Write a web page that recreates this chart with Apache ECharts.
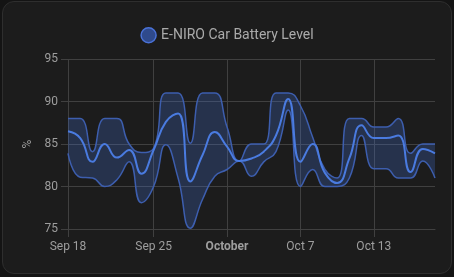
<!DOCTYPE html>
<html>
<head>
<meta charset="utf-8">
<script src="https://cdn.jsdelivr.net/npm/echarts@6/dist/echarts.min.js"></script>
<style>
  html, body { margin:0; padding:0; background:#141414; width:454px; height:277px; overflow:hidden; }
  #card { position:absolute; left:2px; top:1px; width:448px; height:271px; background:#1c1c1c; border:1px solid #2e2e2e; border-radius:12px; }
  #chart { position:absolute; left:0; top:0; width:454px; height:277px; }
</style>
</head>
<body>
<div id="card"></div>
<div id="chart"></div>
<script>
// Daily statistics, one point per day starting Sep 18
const dates = ['Sep 18','Sep 19','Sep 20','Sep 21','Sep 22','Sep 23','Sep 24','Sep 25','Sep 26','Sep 27','Sep 28','Sep 29','Sep 30','October','Oct 2','Oct 3','Oct 4','Oct 5','Oct 6','Oct 7','Oct 8','Oct 9','Oct 10','Oct 11','Oct 12','Oct 13','Oct 14','Oct 15','Oct 16','Oct 17','Oct 18'];
const maxValues  = [88,88,84.1,88,88,85,84,84.5,91,91,85.1,91,91,87,83,85,85,91,91,89.5,85.8,82,81,88,88,87,87,88,83.9,85,85];
const meanValues = [86.5,85.7,82.9,85.0,83.4,84.3,81.5,84.3,87.6,88.6,80.6,83.7,86.4,84.7,83.0,83.3,84.1,86.0,90.3,82.9,85.0,81.6,80.4,83.3,87.2,85.7,85.7,86.0,81.7,84.4,83.9];
const minValues  = [83.9,81.1,81.0,80.0,80.8,82.9,78.1,80.0,84.9,81.0,75.1,78.5,81.2,82.0,83.0,81.2,82.9,84.1,89.0,80.0,82.0,80.0,80.0,81.0,86.0,82.1,82.1,81.0,81.0,83.0,81.0];
const tickLabels = ['Sep 18','Sep 25','October','Oct 7','Oct 13'];
const yTicks = [75,80,85,90,95];
const seriesName = 'E-NIRO Car Battery Level';

const isTick = function(idx){ return tickLabels.indexOf(dates[idx]) >= 0; };

const chart = echarts.init(document.getElementById('chart'), null, {renderer:'canvas'});
const gridColor = '#404040';
const labelColor = '#9e9e9e';
const font = 'Roboto';

const diffValues = maxValues.map((v,i)=> +(v - minValues[i]).toFixed(2));

chart.setOption({
  backgroundColor: 'transparent',
  animation: false,
  textStyle: { fontFamily: font },
  legend: {
    top: 22, left: 'center',
    itemWidth: 15, itemHeight: 15, itemGap: 10,
    textStyle: { color: '#aaaaaa', fontSize: 14, fontFamily: font },
    data: [{ name: seriesName, icon: 'circle', itemStyle: { color: '#2f4a8c', borderColor: '#4a72d8', borderWidth: 1.5 } }]
  },
  grid: { left: 68, right: 19, top: 59, bottom: 48, containLabel: false },
  xAxis: {
    type: 'category', data: dates, boundaryGap: false,
    axisLine: { show: true, lineStyle: { color: gridColor } },
    axisTick: { show: true, length: 8, interval: isTick, lineStyle: { color: gridColor } },
    splitLine: { show: true, interval: isTick, lineStyle: { color: gridColor } },
    axisLabel: {
      interval: isTick, margin: 12, color: labelColor, fontSize: 12, fontFamily: font,
      formatter: function(v){ return v==='October' ? '{b|'+v+'}' : v; },
      rich: { b: { fontWeight: 'bold', color: labelColor, fontSize: 12, fontFamily: font } }
    }
  },
  yAxis: {
    type: 'value', min: 75, max: 95, interval: 5,
    name: '%', nameLocation: 'middle', nameRotate: 90, nameGap: 33,
    nameTextStyle: { color: labelColor, fontSize: 12, fontFamily: font },
    axisLine: { show: false },
    axisTick: { show: true, length: 7, lineStyle: { color: gridColor } },
    splitLine: { show: true, lineStyle: { color: gridColor } },
    axisLabel: { margin: 10, color: labelColor, fontSize: 12, fontFamily: font,
      formatter: function(v){ return yTicks.indexOf(v)>=0 ? String(v) : ''; } }
  },
  series: [
    { name: 'min', type: 'line', stack: 'band', data: minValues, smooth: true, showSymbol: false, symbol: 'none',
      lineStyle: { color: '#3d5eae', width: 1.5 }, z: 2 },
    { name: 'max', type: 'line', stack: 'band', data: diffValues, smooth: true, showSymbol: false, symbol: 'none',
      lineStyle: { color: '#3d5eae', width: 1.5 }, areaStyle: { color: 'rgba(68,115,220,0.25)', opacity: 1 }, z: 2 },
    { name: seriesName, type: 'line', data: meanValues, smooth: true, showSymbol: false, symbol: 'none',
      itemStyle: { color: '#2f4a8c' },
      lineStyle: { color: '#4a7be0', width: 2 }, z: 3 }
  ]
});
</script>
</body>
</html>
